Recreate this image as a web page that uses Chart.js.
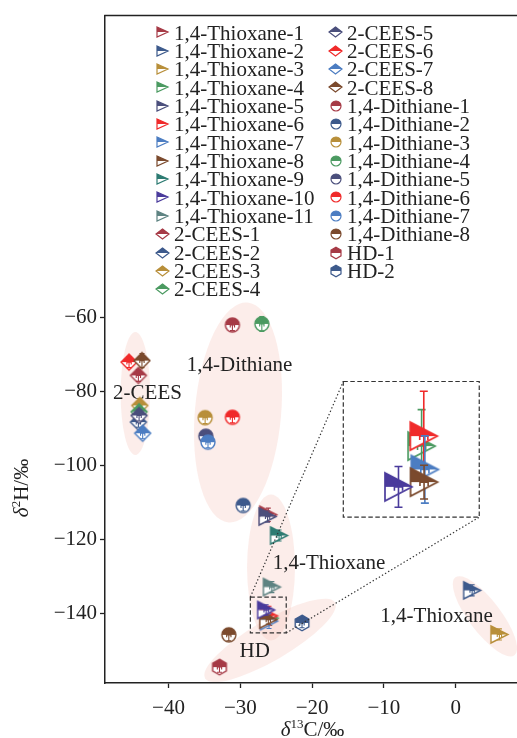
<!DOCTYPE html>
<html><head><meta charset="utf-8">
<script src="https://cdn.jsdelivr.net/npm/chart.js@4.4.1/dist/chart.umd.min.js"></script>
<style>
html,body{margin:0;padding:0;background:#fff;overflow:hidden}
#wrap{position:relative;width:517px;height:738px}
#main{position:absolute;left:0;top:0}
#inset{position:absolute;left:0;top:0}
</style></head><body>
<div id="wrap"><canvas id="main" width="517" height="738"></canvas><canvas id="inset" width="10" height="10"></canvas></div>
<script>
// ---------------- data ----------------
const thioxaneLabels = ['1,4-Thioxane-1','1,4-Thioxane-2','1,4-Thioxane-3','1,4-Thioxane-4','1,4-Thioxane-5','1,4-Thioxane-6','1,4-Thioxane-7','1,4-Thioxane-8','1,4-Thioxane-9','1,4-Thioxane-10','1,4-Thioxane-11'];
const thioxaneC = [-26.1, 2.3, 6.1, -25.9, -26.2, -26.0, -26.0, -26.1, -24.6, -26.4, -25.6];
const thioxaneH = [-113.3, -133.7, -145.6, -141.2, -113.8, -140.6, -142.0, -141.6, -118.9, -139.0, -132.8];
const thioxaneCErr = [0.3, 0.3, 0.3, 0.3, 0.3, 0.4, 0.3, 0.3, 0.3, 0.3, 0.3];
const thioxaneHErr = [1.8, 1.5, 1.5, 2.0, 1.5, 2.6, 2.0, 1.2, 1.5, 1.4, 1.5];

const ceesLabels = ['2-CEES-1','2-CEES-2','2-CEES-3','2-CEES-4','2-CEES-5','2-CEES-6','2-CEES-7','2-CEES-8'];
const ceesC = [-44.2, -44.2, -44.0, -44.1, -44.1, -45.5, -43.6, -43.7];
const ceesH = [-75.7, -88.3, -83.8, -85.5, -86.5, -72.1, -91.3, -71.7];
const ceesCErr = [0.3, 0.3, 0.3, 0.3, 0.3, 0.3, 0.3, 0.3];
const ceesHErr = [1.6, 1.4, 1.8, 1.5, 1.5, 1.5, 1.5, 1.9];

const dithianeLabels = ['1,4-Dithiane-1','1,4-Dithiane-2','1,4-Dithiane-3','1,4-Dithiane-4','1,4-Dithiane-5','1,4-Dithiane-6','1,4-Dithiane-7','1,4-Dithiane-8'];
const dithianeC = [-31.1, -29.6, -34.9, -27.0, -34.8, -31.1, -34.5, -31.6];
const dithianeH = [-62.1, -110.8, -87.1, -61.8, -92.1, -87.0, -93.7, -145.7];
const dithianeCErr = [0.3, 0.3, 0.3, 0.3, 0.3, 0.3, 0.3, 0.3];
const dithianeHErr = [1.5, 1.5, 1.6, 2.0, 1.5, 1.5, 1.5, 1.6];

const hdLabels = ['HD-1','HD-2'];
const hdC = [-32.9, -21.4];
const hdH = [-154.4, -142.5];
const hdCErr = [0.3, 0.3];
const hdHErr = [1.4, 1.3];

// inset (magnified view) values
const insetIdx = [3, 5, 6, 7, 9]; // Thioxane-4, -6, -7, -8, -10
const insetC = [-25.71, -25.63, -25.59, -25.62, -26.56];
const insetH = [-140.07, -139.36, -141.74, -142.64, -142.98];
const insetCErr = [0.15, 0.15, 0.15, 0.15, 0.15];
const insetHErr = [2.6, 3.2, 2.4, 1.2, 1.45];

const xTickValues = [-40, -30, -20, -10, 0];
const yTickValues = [-140, -120, -100, -80, -60];

// ---------------- style ----------------
const FONT = "'Liberation Serif','Times New Roman',serif";
const INK = '#222';
const P = {darkred:'#a63a46', darkblue:'#3d5a8c', gold:'#b88f3a', green:'#4b9a61', slate:'#4b4f7c',
  red:'#f02a2a', lightblue:'#4c7dc2', brown:'#7b4a2d', teal:'#2d7b72', purple:'#4a3b9c', greyteal:'#5e8382'};
const eight = [P.darkred,P.darkblue,P.gold,P.green,P.slate,P.red,P.lightblue,P.brown];
const thioxaneColors = eight.concat([P.teal, P.purple, P.greyteal]);
const ceesColors = eight, dithianeColors = eight, hdColors = [P.darkred, P.darkblue];

const axis = {xMin: -48.85, xMax: 8.55, yMin: -158.7, yMax: 21.4};
const zoomBox = {x0: -28.6, x1: -23.6, y0: -145.2, y1: -135.5};
const insetBox = {x0: -15.65, x1: 3.29, y0: -113.94, y1: -77.34};

const ellipses = [
  {c:[-44.62,-80.58], a:[0,16.6], b:[2.05,0]},
  {c:[-30.32,-85.7], a:[1.32,29.67], b:[5.99,-1.0]},
  {c:[-25.72,-127.5], a:[0,19.7], b:[3.34,0]},
  {c:[-25.86,-147.2], a:[9.05,10.25], b:[1.41,-4.66]},
  {c:[4.08,-140.7], a:[4.11,-10.52], b:[1.78,2.60]}
];
const notes = [
  {t:'2-CEES', x:-42.93, y:-82.06},
  {t:'1,4-Dithiane', x:-30.11, y:-74.38},
  {t:'1,4-Thioxane', x:-17.65, y:-127.86},
  {t:'1,4-Thioxane', x:-2.65, y:-142.27},
  {t:'HD', x:-27.99, y:-151.7}
];

const sizes = {
  main:   {tri:[17,17], dia:[16,16], cir:[14,14], hex:[13.6,15.6], lw:1.4},
  legend: {tri:[11,10], dia:[13,10], cir:[10,10], hex:[10,11.5], lw:1.2},
  inset:  {tri:[27,28], lw:1.7}
};

function makeMarker(shape, color, wh, lw) {
  const w = wh[0], h = wh[1];
  const pad = Math.ceil(lw) + 1;
  const c = document.createElement('canvas');
  c.width = Math.round(w + 2*pad); c.height = Math.round(h + 2*pad);
  const g = c.getContext('2d');
  const cx = c.width/2, cy = c.height/2, hw = w/2, hh = h/2;
  g.beginPath();
  if (shape === 'tri') { g.moveTo(cx-hw, cy-hh); g.lineTo(cx+hw, cy); g.lineTo(cx-hw, cy+hh); g.closePath(); }
  else if (shape === 'dia') { g.moveTo(cx, cy-hh); g.lineTo(cx+hw, cy); g.lineTo(cx, cy+hh); g.lineTo(cx-hw, cy); g.closePath(); }
  else if (shape === 'cir') { g.ellipse(cx, cy, hw, hh, 0, 0, 2*Math.PI); g.closePath(); }
  else { for (let k = 0; k < 6; k++) { const a = (-90 + 60*k) * Math.PI/180; const px = cx + hw*Math.cos(a)/0.866, py = cy + hh*Math.sin(a);
           if (k === 0) g.moveTo(px, py); else g.lineTo(px, py);} g.closePath(); }
  g.save(); g.clip();
  g.fillStyle = '#fff'; g.fillRect(0, cy, c.width, c.height - cy);
  g.fillStyle = color; g.fillRect(0, 0, c.width, cy);
  g.restore();
  g.strokeStyle = color; g.lineWidth = lw; g.lineJoin = 'miter'; g.stroke();
  return c;
}

const groups = [
  {labels: thioxaneLabels, xs: thioxaneC, ys: thioxaneH, xe: thioxaneCErr, ye: thioxaneHErr, shape: 'tri', colors: thioxaneColors},
  {labels: ceesLabels, xs: ceesC, ys: ceesH, xe: ceesCErr, ye: ceesHErr, shape: 'dia', colors: ceesColors},
  {labels: dithianeLabels, xs: dithianeC, ys: dithianeH, xe: dithianeCErr, ye: dithianeHErr, shape: 'cir', colors: dithianeColors},
  {labels: hdLabels, xs: hdC, ys: hdH, xe: hdCErr, ye: hdHErr, shape: 'hex', colors: hdColors}
];

const datasets = [];
groups.forEach(gr => gr.labels.forEach((lab, i) => {
  datasets.push({
    label: lab,
    data: [{x: gr.xs[i], y: gr.ys[i]}],
    pointStyle: makeMarker(gr.shape, gr.colors[i], sizes.main[gr.shape], sizes.main.lw),
    legendMarker: makeMarker(gr.shape, gr.colors[i], sizes.legend[gr.shape], sizes.legend.lw),
    errX: [gr.xe[i]], errY: [gr.ye[i]], errColor: gr.colors[i], errWidth: 1.1, capSize: 2.5,
    showLine: false, clip: false
  });
}));
datasets.forEach((d, i) => d.order = datasets.length - i);

const fmt = v => (v < 0 ? '\u2212' : '') + Math.abs(v);

const errorBarPlugin = {
  id: 'errbars',
  afterDatasetDraw(chart, args) {
    const ds = chart.data.datasets[args.index];
    if (!ds.errX) return;
    const xs = chart.scales.x, ys = chart.scales.y, ctx = chart.ctx;
    ctx.save();
    ctx.strokeStyle = ds.errColor; ctx.lineWidth = ds.errWidth;
    ds.data.forEach((p, i) => {
      const cx = xs.getPixelForValue(p.x), cy = ys.getPixelForValue(p.y);
      const x0 = xs.getPixelForValue(p.x - ds.errX[i]), x1 = xs.getPixelForValue(p.x + ds.errX[i]);
      const y0 = ys.getPixelForValue(p.y - ds.errY[i]), y1 = ys.getPixelForValue(p.y + ds.errY[i]);
      const cap = ds.capSize;
      ctx.beginPath();
      ctx.moveTo(x0, cy); ctx.lineTo(x1, cy);
      ctx.moveTo(cx, y0); ctx.lineTo(cx, y1);
      ctx.moveTo(x0, cy-cap); ctx.lineTo(x0, cy+cap);
      ctx.moveTo(x1, cy-cap); ctx.lineTo(x1, cy+cap);
      ctx.moveTo(cx-cap, y0); ctx.lineTo(cx+cap, y0);
      ctx.moveTo(cx-cap, y1); ctx.lineTo(cx+cap, y1);
      ctx.stroke();
    });
    ctx.restore();
  }
};

function drawRich(ctx, parts, x, y, align) {
  let total = 0;
  parts.forEach(p => { ctx.font = p[1]; total += ctx.measureText(p[0]).width; });
  let cx = align === 'center' ? x - total/2 : x;
  parts.forEach(p => { ctx.font = p[1]; ctx.fillText(p[0], cx, y + (p[2]||0)); cx += ctx.measureText(p[0]).width; });
}

const decorPlugin = {
  id: 'decor',
  beforeDatasetsDraw(chart) {
    const ctx = chart.ctx, xs = chart.scales.x, ys = chart.scales.y;
    ctx.save();
    ctx.fillStyle = 'rgba(245,190,180,0.28)';
    ellipses.forEach(e => {
      const cx = xs.getPixelForValue(e.c[0]), cy = ys.getPixelForValue(e.c[1]);
      const ax = xs.getPixelForValue(e.c[0]+e.a[0]) - cx, ay = ys.getPixelForValue(e.c[1]+e.a[1]) - cy;
      const bx = xs.getPixelForValue(e.c[0]+e.b[0]) - cx, by = ys.getPixelForValue(e.c[1]+e.b[1]) - cy;
      ctx.save();
      ctx.transform(ax, ay, bx, by, cx, cy);
      ctx.beginPath(); ctx.arc(0, 0, 1, 0, 2*Math.PI);
      ctx.restore();
      ctx.fill();
    });
    ctx.fillStyle = INK; ctx.font = '21px ' + FONT; ctx.textAlign = 'center'; ctx.textBaseline = 'alphabetic';
    notes.forEach(n => ctx.fillText(n.t, xs.getPixelForValue(n.x), ys.getPixelForValue(n.y)));
    ctx.restore();
  },
  afterDraw(chart) {
    const ctx = chart.ctx, xs = chart.scales.x, ys = chart.scales.y, ca = chart.chartArea;
    ctx.save();
    ctx.strokeStyle = INK; ctx.lineWidth = 1.5;
    ctx.beginPath(); ctx.moveTo(ca.left - 0.75, ca.top); ctx.lineTo(ca.right, ca.top); ctx.stroke();
    const zb = [xs.getPixelForValue(zoomBox.x0), ys.getPixelForValue(zoomBox.y1), xs.getPixelForValue(zoomBox.x1), ys.getPixelForValue(zoomBox.y0)];
    const ib = [xs.getPixelForValue(insetBox.x0), ys.getPixelForValue(insetBox.y1), xs.getPixelForValue(insetBox.x1), ys.getPixelForValue(insetBox.y0)];
    ctx.strokeStyle = '#333'; ctx.lineWidth = 1.2; ctx.setLineDash([4.5, 2.5]);
    [zb, ib].forEach(b => ctx.strokeRect(b[0], b[1], b[2]-b[0], b[3]-b[1]));
    ctx.setLineDash([1.4, 2.2]); ctx.lineWidth = 1.2;
    ctx.beginPath(); ctx.moveTo(zb[0], zb[1]); ctx.lineTo(ib[0], ib[1]);
    ctx.moveTo(zb[2], zb[3]); ctx.lineTo(ib[2], ib[3]); ctx.stroke();
    ctx.setLineDash([]);
    ctx.fillStyle = INK; ctx.textBaseline = 'alphabetic'; ctx.textAlign = 'left';
    drawRich(ctx, [['\u03b4', 'italic 21px ' + FONT], ['13', '13px ' + FONT, -8], ['C/\u2030', '21px ' + FONT]], 312.5, 736, 'center');
    ctx.save(); ctx.translate(28, 488); ctx.rotate(-Math.PI/2);
    drawRich(ctx, [['\u03b4', 'italic 21px ' + FONT], ['2', '13px ' + FONT, -8], ['H/\u2030', '21px ' + FONT]], 0, 0, 'center');
    ctx.restore();
    ctx.font = '21px ' + FONT; ctx.textAlign = 'left'; ctx.textBaseline = 'alphabetic';
    const ds = chart.data.datasets;
    ds.forEach((d, i) => {
      const col = i < 15 ? 0 : 1, row = i < 15 ? i : i - 15;
      const my = 32.3 + row * 18.35;
      const mx = col === 0 ? 162.5 : 335.7;
      const tx = col === 0 ? 174 : 347;
      const m = d.legendMarker;
      ctx.drawImage(m, Math.round(mx - m.width/2), Math.round(my - m.height/2));
      ctx.fillText(d.label, tx, my + 7.2);
    });
    ctx.restore();
  }
};

const tickFont = {family: FONT, size: 21};
const mainChart = new Chart(document.getElementById('main'), {
  type: 'scatter',
  data: {datasets},
  options: {
    responsive: false, animation: false, devicePixelRatio: 1,
    layout: {autoPadding: false, padding: {top: 15, right: 0, left: 0, bottom: 0}},
    plugins: {legend: {display: false}, tooltip: {enabled: false}},
    elements: {point: {radius: 8, hoverRadius: 8}},
    scales: {
      x: {type: 'linear', min: axis.xMin, max: axis.xMax,
        afterBuildTicks: s => { s.ticks = xTickValues.map(v => ({value: v})); },
        afterFit: s => { s.height = 55; },
        grid: {display: true, drawOnChartArea: false, drawTicks: true, tickLength: 5, tickColor: INK, tickWidth: 1.3},
        border: {display: true, color: INK, width: 1.5},
        ticks: {font: tickFont, color: INK, padding: 8, maxRotation: 0, autoSkip: false, callback: v => fmt(v)}},
      y: {type: 'linear', min: axis.yMin, max: axis.yMax,
        afterBuildTicks: s => { s.ticks = yTickValues.map(v => ({value: v})); },
        afterFit: s => { s.width = 105; },
        grid: {display: true, drawOnChartArea: false, drawTicks: true, tickLength: 5, tickColor: INK, tickWidth: 1.3},
        border: {display: true, color: INK, width: 1.5},
        ticks: {font: tickFont, color: INK, padding: 3, autoSkip: false, callback: v => fmt(v)}}
    }
  },
  plugins: [decorPlugin, errorBarPlugin]
});

// ---------------- inset ----------------
const mx = mainChart.scales.x, my = mainChart.scales.y;
const L = mx.getPixelForValue(insetBox.x0), R = mx.getPixelForValue(insetBox.x1);
const T = my.getPixelForValue(insetBox.y1), B = my.getPixelForValue(insetBox.y0);
const ic = document.getElementById('inset');
ic.width = Math.round(R - L); ic.height = Math.round(B - T);
ic.style.left = L + 'px'; ic.style.top = T + 'px';
const insetSets = insetIdx.map((k, i) => ({
  label: thioxaneLabels[k],
  data: [{x: insetC[i], y: insetH[i]}],
  pointStyle: makeMarker('tri', thioxaneColors[k], sizes.inset.tri, sizes.inset.lw),
  errX: [insetCErr[i]], errY: [insetHErr[i]], errColor: thioxaneColors[k], errWidth: 1.6, capSize: 4,
  showLine: false, clip: false
}));
insetSets.forEach((d, i) => d.order = insetSets.length - i);
new Chart(ic, {
  type: 'scatter',
  data: {datasets: insetSets},
  options: {
    responsive: false, animation: false, devicePixelRatio: 1,
    layout: {autoPadding: false, padding: 0},
    plugins: {legend: {display: false}, tooltip: {enabled: false}},
    elements: {point: {radius: 12, hoverRadius: 12}},
    scales: {
      x: {type: 'linear', display: false, min: zoomBox.x0, max: zoomBox.x1},
      y: {type: 'linear', display: false, min: zoomBox.y0, max: zoomBox.y1}
    }
  },
  plugins: [errorBarPlugin]
});
</script>
</body></html>
